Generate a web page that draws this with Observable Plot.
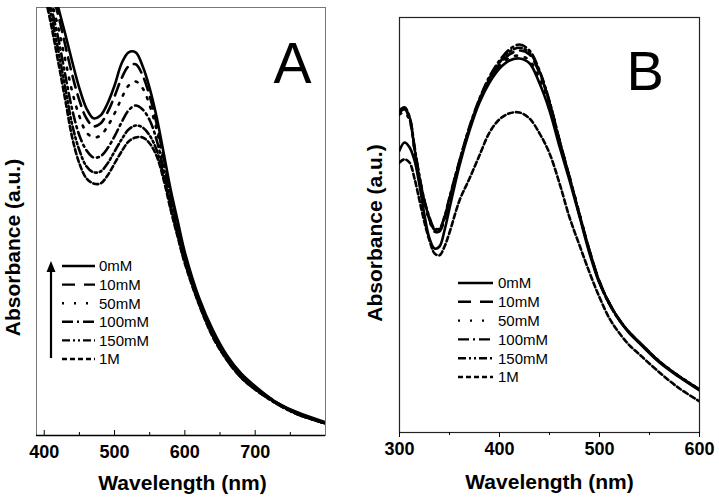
<!DOCTYPE html>
<html><head><meta charset="utf-8">
<script src="https://cdn.jsdelivr.net/npm/d3@7"></script>
<script src="https://cdn.jsdelivr.net/npm/@observablehq/plot@0.6"></script>
<style>
body{margin:0;background:#fff;}
#wrap{position:relative;width:719px;height:502px;overflow:hidden;background:#fff;}
#pa{position:absolute;left:0;top:0;}
#pb{position:absolute;left:360px;top:0;}
</style></head><body><div id="wrap"><div id="pa"></div><div id="pb"></div></div>
<script>
const FONT = "Liberation Sans, Arial, Helvetica, sans-serif";
const series = ["0mM", "10mM", "50mM", "100mM", "150mM", "1M"];
const dashes = [null, "12,7", "2,8", "10,4,2,4", "8,3,2,3,2,3", "5,3"];
const legendDashes = [null, "13,9", "2,10", "11,4,2,4", "8,3,2,3,2,3", "5,3"];

// Panel A
const wlA = [400,410,420,430,440,450,460,470,480,490,500,510,520,530,540,550,560,570,580,590,600,620,640,660,680,700,730,760,800];
const A_0mM   = [1.20,1.133,1.07,1.003,0.933,0.868,0.818,0.793,0.80,0.83,0.875,0.93,0.958,0.958,0.923,0.868,0.795,0.705,0.613,0.535,0.458,0.345,0.263,0.20,0.155,0.123,0.083,0.058,0.033];
const A_10mM  = [1.175,1.113,1.05,0.975,0.90,0.838,0.793,0.773,0.78,0.808,0.848,0.893,0.923,0.928,0.90,0.848,0.778,0.693,0.603,0.525,0.45,0.34,0.255,0.195,0.15,0.12,0.083,0.055,0.03];
const A_50mM  = [1.163,1.088,1.02,0.938,0.858,0.798,0.758,0.745,0.75,0.773,0.805,0.843,0.875,0.885,0.868,0.825,0.763,0.68,0.593,0.518,0.445,0.338,0.253,0.193,0.148,0.118,0.083,0.055,0.03];
const A_100mM = [1.15,1.07,0.993,0.90,0.813,0.75,0.713,0.695,0.698,0.718,0.748,0.783,0.813,0.825,0.815,0.788,0.738,0.663,0.58,0.508,0.438,0.333,0.25,0.19,0.148,0.118,0.083,0.055,0.03];
const A_150mM = [1.133,1.05,0.963,0.868,0.775,0.713,0.673,0.658,0.66,0.68,0.71,0.74,0.765,0.775,0.77,0.75,0.713,0.648,0.57,0.50,0.433,0.33,0.248,0.188,0.145,0.115,0.08,0.053,0.03];
const A_1M    = [1.108,1.025,0.933,0.838,0.743,0.68,0.643,0.63,0.63,0.65,0.68,0.71,0.735,0.745,0.745,0.73,0.698,0.638,0.563,0.495,0.43,0.328,0.245,0.188,0.145,0.115,0.08,0.053,0.03];
const ticksA = [400, 500, 600, 700];
const minorA = [450, 550, 650, 750];

// Panel B
const wlB = [300,305,310,315,320,325,330,335,340,345,350,360,370,380,390,400,410,420,430,440,450,460,470,480,490,500,510,520,530,540,560,580,600];
const B_0mM   = [0.705,0.725,0.713,0.68,0.618,0.543,0.485,0.46,0.465,0.505,0.56,0.668,0.755,0.825,0.875,0.91,0.93,0.935,0.923,0.873,0.805,0.715,0.63,0.54,0.448,0.373,0.323,0.28,0.248,0.223,0.175,0.138,0.105];
const B_10mM  = [0.80,0.808,0.785,0.71,0.635,0.575,0.532,0.503,0.503,0.533,0.58,0.675,0.76,0.83,0.882,0.92,0.945,0.955,0.945,0.898,0.825,0.73,0.638,0.545,0.455,0.378,0.322,0.282,0.25,0.225,0.177,0.14,0.107];
const B_50mM  = [0.795,0.80,0.78,0.705,0.632,0.572,0.53,0.502,0.505,0.535,0.582,0.675,0.76,0.83,0.88,0.915,0.937,0.942,0.93,0.885,0.82,0.728,0.64,0.547,0.455,0.377,0.322,0.281,0.25,0.225,0.177,0.14,0.107];
const B_100mM = [0.805,0.813,0.79,0.715,0.64,0.58,0.538,0.51,0.51,0.54,0.588,0.68,0.765,0.835,0.89,0.93,0.958,0.97,0.955,0.905,0.828,0.73,0.638,0.543,0.453,0.375,0.32,0.28,0.25,0.225,0.178,0.14,0.108];
const B_150mM = [0.80,0.81,0.788,0.712,0.638,0.578,0.535,0.507,0.508,0.538,0.585,0.678,0.762,0.832,0.886,0.925,0.952,0.962,0.95,0.902,0.826,0.73,0.638,0.545,0.455,0.376,0.321,0.281,0.25,0.225,0.177,0.14,0.107];
const B_1M    = [0.675,0.683,0.675,0.635,0.58,0.525,0.48,0.448,0.443,0.465,0.50,0.58,0.635,0.693,0.75,0.783,0.798,0.80,0.785,0.748,0.698,0.623,0.538,0.468,0.40,0.338,0.285,0.248,0.218,0.195,0.15,0.11,0.078];
const ticksB = [300, 400, 500, 600];
const minorB = [350, 450, 550];

const seriesA = [A_0mM, A_10mM, A_50mM, A_100mM, A_150mM, A_1M];
const seriesB = [B_0mM, B_10mM, B_50mM, B_100mM, B_150mM, B_1M];

function rows(wl, arrs) {
  return arrs.map((arr, i) => arr.map((v, j) => ({wl: wl[j], v, s: series[i]})));
}
const rowsA = rows(wlA, seriesA);
const rowsB = rows(wlB, seriesB);

function lines(rs) {
  return rs.map((r, i) => Plot.line(r, {x: "wl", y: "v", curve: "catmull-rom", stroke: "black",
    strokeWidth: 2.6, strokeDasharray: dashes[i], clip: true}));
}

const plotA = Plot.plot({
  width: 340, height: 502,
  marginLeft: 36, marginRight: 15, marginTop: 7, marginBottom: 67,
  x: {domain: [389, 800]},
  y: {domain: [0, 1.07], axis: null},
  style: {fontFamily: FONT, background: "white", color: "black"},
  marks: [
    Plot.frame({stroke: "#777", strokeWidth: 1}),
    ...lines(rowsA),
    Plot.ruleY([0], {stroke: "black", strokeWidth: 1.5}),
    Plot.axisX(ticksA, {tickSize: -5, tickPadding: 15, fontSize: 18, fontWeight: "bold", label: null, stroke: "black"}),
    Plot.axisX(minorA, {tickSize: -3, tickFormat: () => "", label: null, stroke: "black"}),
    Plot.text(["Wavelength (nm)"], {frameAnchor: "bottom", lineAnchor: "middle", dx: 1.5, dy: 48, fontSize: 21, fontWeight: "bold", fill: "black"}),
    Plot.text(["Absorbance (a.u.)"], {frameAnchor: "left", textAnchor: "middle", lineAnchor: "middle", rotate: -90, dx: -23, dy: 26, fontSize: 21, fontWeight: "bold", fill: "black"}),
    Plot.text(["A"], {frameAnchor: "top-left", textAnchor: "start", lineAnchor: "top", dx: 237, dy: 35, fontSize: 57, fill: "black"})
  ]
});

const plotB = Plot.plot({
  width: 359, height: 502,
  marginLeft: 39, marginRight: 20, marginTop: 17, marginBottom: 70,
  x: {domain: [300, 600]},
  y: {domain: [0, 1.0375], axis: null},
  style: {fontFamily: FONT, background: "white", color: "black"},
  marks: [
    Plot.frame({stroke: "#222", strokeWidth: 1.2}),
    ...lines(rowsB),
    Plot.axisX(ticksB, {tickSize: 5, tickPadding: 4.5, fontSize: 18, fontWeight: "bold", label: null, stroke: "black"}),
    Plot.axisX(minorB, {tickSize: 3, tickFormat: () => "", label: null, stroke: "black"}),
    Plot.text(["Wavelength (nm)"], {frameAnchor: "bottom", lineAnchor: "middle", dy: 50, fontSize: 21, fontWeight: "bold", fill: "black"}),
    Plot.text(["Absorbance (a.u.)"], {frameAnchor: "left", textAnchor: "middle", lineAnchor: "middle", rotate: -90, dx: -24, dy: 8, fontSize: 21, fontWeight: "bold", fill: "black"}),
    Plot.text(["B"], {frameAnchor: "top-left", textAnchor: "start", lineAnchor: "top", dx: 227, dy: 33, fontSize: 56, fill: "black"})
  ]
});

function legend(svg, x0, x1, tx, ys) {
  const g = d3.select(svg).append("g").attr("font-family", FONT).attr("font-size", 15)
    .attr("text-anchor", "start");
  series.forEach((s, i) => {
    g.append("line").attr("x1", x0).attr("x2", x1).attr("y1", ys[i]).attr("y2", ys[i])
      .attr("stroke", "black").attr("stroke-width", 2.4)
      .attr("stroke-dasharray", legendDashes[i]);
    g.append("text").attr("x", tx).attr("y", ys[i]).attr("dy", "0.36em")
      .attr("text-anchor", "start").attr("fill", "black").text(s);
  });
  return g;
}

const gA = legend(plotA, 62, 95, 99, [266, 284.6, 303.2, 321.8, 340.4, 359]);
gA.append("line").attr("x1", 51).attr("x2", 51).attr("y1", 358).attr("y2", 270)
  .attr("stroke", "black").attr("stroke-width", 2.2);
gA.append("path").attr("d", "M51,261 L46.5,272 L55.5,272 Z").attr("fill", "black");

legend(plotB, 98, 133, 138, [283, 301.8, 320.6, 339.4, 358.2, 377]);

document.getElementById("pa").appendChild(plotA);
document.getElementById("pb").appendChild(plotB);
</script>
</body></html>
